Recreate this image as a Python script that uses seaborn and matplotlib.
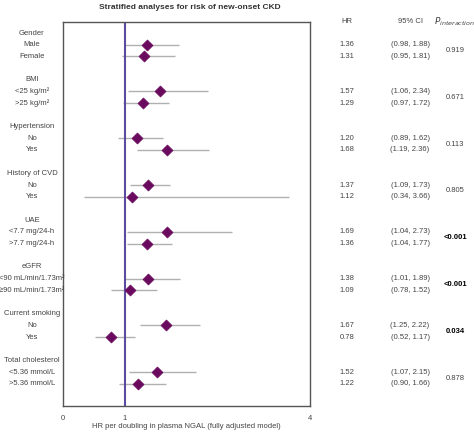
import pandas as pd
import matplotlib.pyplot as plt
import seaborn as sns

groups = ['Gender', 'BMI', 'Hypertension', 'History of CVD', 'UAE', 'eGFR',
          'Current smoking', 'Total cholesterol']
subgroups = ['Male', 'Female', '<25 kg/m²', '>25 kg/m²', 'No', 'Yes', 'No', 'Yes',
             '<7.7 mg/24-h', '>7.7 mg/24-h', '<90 mL/min/1.73m²', '≥90 mL/min/1.73m²',
             'No', 'Yes', '<5.36 mmol/L', '>5.36 mmol/L']
hr = [1.36, 1.31, 1.57, 1.29, 1.20, 1.68, 1.37, 1.12, 1.69, 1.36, 1.38, 1.09,
      1.67, 0.78, 1.52, 1.22]
lo = [0.98, 0.95, 1.06, 0.97, 0.89, 1.19, 1.09, 0.34, 1.04, 1.04, 1.01, 0.78,
      1.25, 0.52, 1.07, 0.90]
hi = [1.88, 1.81, 2.34, 1.72, 1.62, 2.36, 1.73, 3.66, 2.73, 1.77, 1.89, 1.52,
      2.22, 1.17, 2.15, 1.66]
p_int = ['0.919', '0.671', '0.113', '0.805', '<0.001', '<0.001', '0.034', '0.878']
p_bold = [False, False, False, False, True, True, True, False]

rows = []
for i in range(len(hr)):
    g = i // 2
    rows.append(4 * g + 1 + i % 2)
df = pd.DataFrame({'label': subgroups, 'hr': hr, 'lo': lo, 'hi': hi, 'row': rows})

sns.set_style('white')
plt.rcParams['font.family'] = ['Liberation Sans', 'DejaVu Sans']
fig = plt.figure(figsize=(4.74, 4.32), dpi=100)
ax = fig.add_axes([0.133, 0.060, 0.521, 0.889])

ax.hlines(df['row'], df['lo'], df['hi'], color='#b0b0b0', lw=1, zorder=1)
ax.axvline(1, color='#5b4aa0', lw=1.5, zorder=2)
sns.scatterplot(data=df, x='hr', y='row', marker='D', s=32, color='#6a0a5e',
                edgecolor='#6a0a5e', ax=ax, zorder=3)

ax.set_xlim(0, 4)
ax.set_ylim(31.9, -0.94)
ax.set_xticks([0, 1, 4])
ax.set_xticklabels(['0', '1', '4'])
ax.set_yticks([])
ax.set_ylabel('')
ax.tick_params(axis='x', labelsize=5.5, length=3, color='#555555', labelcolor='#444444')
ax.set_xlabel('HR per doubling in plasma NGAL (fully adjusted model)', fontsize=5.5,
              color='#444444', labelpad=1)
for s in ax.spines.values():
    s.set_color('#555555')
    s.set_linewidth(1)

tr = ax.get_yaxis_transform()
fs = 5.5
xl, xhr, xci, xp = -0.126, 1.15, 1.405, 1.587
for g, name in enumerate(groups):
    ax.text(xl, 4 * g, name, transform=tr, ha='center', va='center', fontsize=fs, color='#444444')
    y = 4 * g + 1.5
    ax.text(xp, y, p_int[g], transform=tr, ha='center', va='center', fontsize=fs,
            color='black' if p_bold[g] else '#444444', fontweight='bold' if p_bold[g] else 'normal')
for i, r in df.iterrows():
    ax.text(xl, r['row'], r['label'], transform=tr, ha='center', va='center', fontsize=fs, color='#444444')
    ax.text(xhr, r['row'], f"{r['hr']:.2f}", transform=tr, ha='center', va='center', fontsize=fs, color='#444444')
    ax.text(xci, r['row'], f"({r['lo']:.2f}, {r['hi']:.2f})", transform=tr, ha='center',
            va='center', fontsize=fs, color='#444444')

ax.text(xhr, -1, 'HR', transform=tr, ha='center', va='center', fontsize=fs, color='#444444')
ax.text(xci, -1, '95% CI', transform=tr, ha='center', va='center', fontsize=fs, color='#444444')
ax.text(xp, -1, '$P_{interaction}$', transform=tr, ha='center', va='center', fontsize=6.5, color='#444444')
fig.text(0.4, 0.982, 'Stratified analyses for risk of new-onset CKD', ha='center', va='center',
         fontsize=6, fontweight='bold', color='#333333')

fig.savefig('out.png', dpi=100)
